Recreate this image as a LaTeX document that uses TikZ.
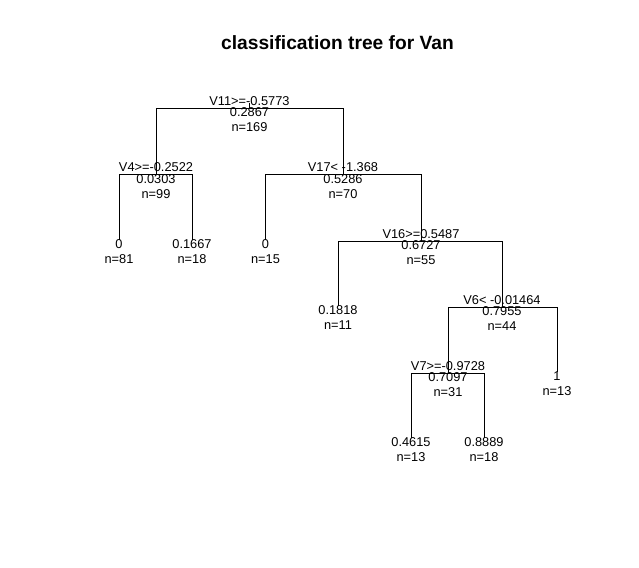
\documentclass[tikz,border=0pt]{standalone}
\usepackage{fontspec}
\setmainfont{Liberation Sans}

\begin{document}
\begin{tikzpicture}[x=1bp,y=-1bp,
    lab/.style={inner sep=0pt,anchor=base,font=\fontsize{12.8bp}{14bp}\selectfont},
    branch/.style={draw=black,line width=1bp}]
    \useasboundingbox (0,0) rectangle (639,568);
    \node[lab,font=\fontsize{19.2bp}{22bp}\selectfont\bfseries] (title) at (337.5,50) {classification tree for Van};

    % Place the tree nodes
    \foreach \name/\x/\y in {root/249.5/108.5, vfour/156/175, vseventeen/343/175,
        leafa/119/240, leafb/192/240, leafc/265.5/240, vsixteen/421/241,
        leafd/338/306, vsix/502/307, vseven/448/373, leafe/557/372,
        leaff/411/438, leafg/484/438}
        \coordinate (\name) at (\x,\y);
    \coordinate (rootTop) at (249.5,103.5);

    % Draw the branches from each child up to its parent
    \draw[branch] (root) -- (rootTop);
    \draw[branch] (vfour) |- (root);
    \draw[branch] (vseventeen) |- (root);
    \draw[branch] (leafa) |- (vfour);
    \draw[branch] (leafb) |- (vfour);
    \draw[branch] (leafc) |- (vseventeen);
    \draw[branch] (vsixteen) |- (vseventeen);
    \draw[branch] (leafd) |- (vsixteen);
    \draw[branch] (vsix) |- (vsixteen);
    \draw[branch] (vseven) |- (vsix);
    \draw[branch] (leafe) |- (vsix);
    \draw[branch] (leaff) |- (vseven);
    \draw[branch] (leafg) |- (vseven);

    % Split labels above the nodes
    \foreach \name/\split in {root/V11>=-0.5773, vfour/V4>=-0.2522, vseventeen/V17< -1.368,
        vsixteen/V16>=0.5487, vsix/V6< -0.01464, vseven/V7>=-0.9728}
        \node[lab] (\name split) at ([yshift=3bp]\name) {\split};

    % Fitted value and size below the nodes
    \foreach \name/\val/\n in {root/0.2867/169, vfour/0.0303/99, vseventeen/0.5286/70,
        leafa/0/81, leafb/0.1667/18, leafc/0/15, vsixteen/0.6727/55,
        leafd/0.1818/11, vsix/0.7955/44, vseven/0.7097/31, leafe/1/13,
        leaff/0.4615/13, leafg/0.8889/18}
    {
        \node[lab] (\name val) at ([yshift=-8.5bp]\name) {\val};
        \node[lab] (\name n) at ([yshift=-23.5bp]\name) {n=\n};
    }
\end{tikzpicture}
\end{document}
